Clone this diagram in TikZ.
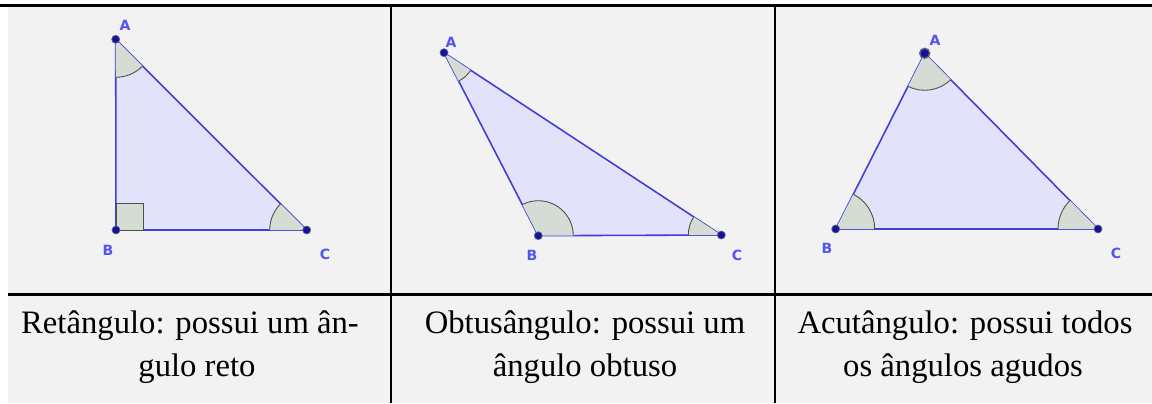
\documentclass[tikz,border=0pt]{standalone}
\usepackage{fontspec}
\setmainfont{Liberation Serif}
\newfontfamily\ggbfont{DejaVu Sans}
\usetikzlibrary{angles}
\definecolor{ggbline}{RGB}{64,64,216}
\definecolor{ggbfill}{RGB}{226,226,250}
\definecolor{ggbpoint}{RGB}{16,16,170}
\definecolor{ggblabel}{RGB}{84,84,240}
\definecolor{arcline}{RGB}{70,85,70}
\definecolor{arcfill}{RGB}{212,220,212}
\definecolor{cellgray}{RGB}{242,242,242}

\begin{document}
\begin{tikzpicture}[x=0.02cm,y=0.02cm,
    tri/.style={draw=ggbline,line width=0.9pt,fill=ggbfill,line join=round},
    ang/.style={draw=arcline,fill=arcfill,line width=0.5pt,angle radius=#1},
    vlabel/.style={text=ggblabel,font=\ggbfont\bfseries\fontsize{8}{9}\selectfont,inner sep=0pt},
    caption/.style={anchor=base,inner sep=0pt,font=\fontsize{18.6}{22}\selectfont},
    rule/.style={line width=1.2pt}]
  \useasboundingbox (0,0) rectangle (1152,403);
  \fill[cellgray] (8,0) rectangle (1152,397);

  % reto
  \coordinate (A1) at (115.7,363.7);
  \coordinate (B1) at (116,173);
  \coordinate (C1) at (306.7,173);
  \filldraw[tri] (A1) -- (B1) -- (C1) -- cycle;
  \filldraw[draw=arcline,fill=arcfill,line width=0.5pt] (B1) rectangle ++(27,27);
  \pic[ang=0.76cm] {angle=B1--A1--C1};
  \pic[ang=0.74cm] {angle=A1--C1--B1};
  \node[vlabel] (labA1) at (125,378) {A};
  \node[vlabel] (labB1) at (108,153) {B};
  \node[vlabel] (labC1) at (325,149) {C};

  % obtuso
  \coordinate (A2) at (444,350.3);
  \coordinate (B2) at (538.3,167.3);
  \coordinate (C2) at (721.3,168);
  \filldraw[tri] (A2) -- (B2) -- (C2) -- cycle;
  \pic[ang=0.64cm] {angle=B2--A2--C2};
  \pic[ang=0.70cm] {angle=C2--B2--A2};
  \pic[ang=0.66cm] {angle=A2--C2--B2};
  \node[vlabel] (labA2) at (451,361) {A};
  \node[vlabel] (labB2) at (532,148) {B};
  \node[vlabel] (labC2) at (737,148) {C};

  % agudo
  \coordinate (A3) at (924.7,349.7);
  \coordinate (B3) at (835.7,174);
  \coordinate (C3) at (1098,174);
  \filldraw[tri] (A3) -- (B3) -- (C3) -- cycle;
  \pic[ang=0.74cm] {angle=B3--A3--C3};
  \pic[ang=0.78cm] {angle=C3--B3--A3};
  \pic[ang=0.80cm] {angle=A3--C3--B3};
  \node[vlabel] (labA3) at (935,363) {A};
  \node[vlabel] (labB3) at (827,155) {B};
  \node[vlabel] (labC3) at (1116,150) {C};

  % pontos
  \foreach \p in {A1,B1,C1,A2,B2,C2,B3,C3}
    \filldraw[fill=ggbpoint,draw=black!60,line width=0.4pt] (\p) circle (4);
  \filldraw[fill=ggbpoint,draw=black!60,line width=0.8pt] (A3) circle (5);

  % tabela
  \draw[rule] (0,397.5) -- (1152,397.5);
  \draw[rule] (8,108.5) -- (1152,108.5);
  \draw[rule] (391,0) -- (391,397.5);
  \draw[rule] (775,0) -- (775,397.5);

  \node[caption] (ret1) at (190,70) {Retângulo: possui um ân-};
  \node[caption] (ret2) at (197,27) {gulo reto};
  \node[caption] (obt1) at (585,70) {Obtusângulo: possui um};
  \node[caption] (obt2) at (585,27) {ângulo obtuso};
  \node[caption] (acu1) at (965,70) {Acutângulo: possui todos};
  \node[caption] (acu2) at (963,27) {os ângulos agudos};
\end{tikzpicture}
\end{document}
